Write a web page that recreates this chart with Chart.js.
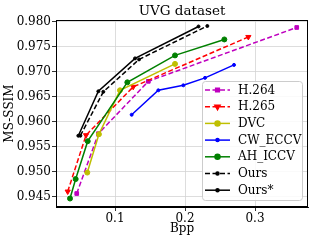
<!DOCTYPE html>
<html>
<head>
<meta charset="utf-8">
<script src="https://cdn.jsdelivr.net/npm/chart.js@4/dist/chart.umd.min.js"></script>
<style>
  html, body { margin: 0; padding: 0; background: #ffffff; }
  #wrap { width: 314px; height: 242px; }
</style>
</head>
<body>
<div id="wrap"><canvas id="chart" width="314" height="242"></canvas></div>
<script>
// values
const h264Bpp = [0.0453, 0.0762, 0.1476, 0.3596];
const h264Ssim = [0.9456, 0.9576, 0.9681, 0.9789];

const h265Bpp = [0.0324, 0.0586, 0.126, 0.2905];
const h265Ssim = [0.9460, 0.9573, 0.9670, 0.9770];

const dvcBpp = [0.0604, 0.0770, 0.1071, 0.1857];
const dvcSsim = [0.9498, 0.9575, 0.9663, 0.9716];

const cwBpp = [0.1238, 0.1619, 0.1976, 0.2286, 0.2700];
const cwSsim = [0.9614, 0.9663, 0.9673, 0.9688, 0.9714];

const ahBpp = [0.0357, 0.0438, 0.0610, 0.1176, 0.1857, 0.2562];
const ahSsim = [0.9446, 0.9485, 0.9561, 0.9679, 0.9733, 0.9765];

const oursBpp = [0.0505, 0.0833, 0.1343, 0.2319];
const oursSsim = [0.9572, 0.9660, 0.9725, 0.9792];

const oursStarBpp = [0.0476, 0.0762, 0.1286, 0.2193];
const oursStarSsim = [0.9572, 0.9661, 0.9727, 0.9791];

const xTicks = [0.1, 0.2, 0.3];
const yTicks = [0.945, 0.950, 0.955, 0.960, 0.965, 0.970, 0.975, 0.980];

const FONT = "'DejaVu Serif', 'Liberation Serif', serif";

function pts(xs, ys) {
  return xs.map((x, i) => ({ x: x, y: ys[i] }));
}

function series(label, xs, ys, color, dashed, style, radius) {
  return {
    label: label,
    data: pts(xs, ys),
    borderColor: color,
    backgroundColor: color,
    borderWidth: 1.5,
    borderDash: dashed ? [5, 2.5] : [],
    pointStyle: style,
    pointRadius: radius,
    pointBorderWidth: 1,
    pointBackgroundColor: color,
    pointBorderColor: color,
    tension: 0,
    fill: false,
  };
}

const datasets = [
  series("H.264", h264Bpp, h264Ssim, "#bf00bf", true, "rect", 2.6),
  series("H.265", h265Bpp, h265Ssim, "#ff0000", true, "triangle", 3),
  series("DVC", dvcBpp, dvcSsim, "#bfbf00", false, "circle", 2.5),
  series("CW_ECCV", cwBpp, cwSsim, "#0000ff", false, "circle", 1.5),
  series("AH_ICCV", ahBpp, ahSsim, "#008000", false, "circle", 2.5),
  series("Ours", oursBpp, oursSsim, "#000000", true, "circle", 1.5),
  series("Ours*", oursStarBpp, oursStarSsim, "#000000", false, "circle", 1.5),
];
// matplotlib draws later series on top
datasets.forEach((d, i) => { d.order = datasets.length - i; });
// red markers are downward triangles
datasets[1].pointRotation = 180;

// frame, title and legend drawn inside the plot like matplotlib
const framePlugin = {
  id: "framePlugin",
  afterDraw: (chart) => {
    const ctx = chart.ctx;
    const a = chart.chartArea;
    ctx.save();
    ctx.strokeStyle = "#000";
    ctx.lineWidth = 1;
    ctx.strokeRect(a.left + 0.5, a.top + 0.5, a.right - a.left - 1, a.bottom - a.top - 1);

    // title
    ctx.fillStyle = "#000";
    ctx.font = "13.5px " + FONT;
    ctx.textAlign = "center";
    ctx.textBaseline = "middle";
    ctx.fillText("UVG dataset", (a.left + a.right) / 2, 11);

    // legend box (lower right)
    const bw = 100, bh = 119;
    const bx = a.right - 5.5 - bw;
    const by = a.bottom - 6.5 - bh;
    ctx.globalAlpha = 0.85;
    ctx.fillStyle = "#fff";
    ctx.beginPath();
    ctx.roundRect(bx, by, bw, bh, 3);
    ctx.fill();
    ctx.globalAlpha = 1;
    ctx.strokeStyle = "#cccccc";
    ctx.stroke();

    ctx.font = "12px " + FONT;
    ctx.textAlign = "left";
    chart.data.datasets.forEach((d, i) => {
      const cy = by + 8.5 + i * 16.7;
      const x0 = bx + 2.5, x1 = bx + 27.5;
      ctx.strokeStyle = d.borderColor;
      ctx.lineWidth = d.borderWidth;
      ctx.setLineDash(d.borderDash);
      ctx.beginPath();
      ctx.moveTo(x0, cy);
      ctx.lineTo(x1, cy);
      ctx.stroke();
      ctx.setLineDash([]);
      ctx.fillStyle = d.pointBackgroundColor;
      Chart.helpers.drawPoint(ctx, {
        pointStyle: d.pointStyle,
        radius: d.pointRadius,
        rotation: d.pointRotation || 0,
        borderWidth: 1,
      }, (x0 + x1) / 2, cy);
      ctx.fillStyle = "#000";
      ctx.fillText(d.label, bx + 35.5, cy + 0.5);
    });
    ctx.restore();
  },
};

new Chart(document.getElementById("chart"), {
  type: "line",
  data: { datasets: datasets },
  plugins: [framePlugin],
  options: {
    responsive: false,
    animation: false,
    layout: { padding: { top: 20, right: 6, left: 0, bottom: 0 } },
    plugins: {
      legend: { display: false },
      tooltip: { enabled: false },
      title: { display: false },
    },
    scales: {
      x: {
        type: "linear",
        min: 0.0157,
        max: 0.3757,
        afterBuildTicks: (scale) => { scale.ticks = xTicks.map((v) => ({ value: v })); },
        afterFit: (scale) => { scale.height = 35; },
        ticks: {
          color: "#000",
          padding: 1,
          font: { family: FONT, size: 12 },
          callback: (v) => v.toFixed(1),
        },
        grid: { color: "#d4d4d4", lineWidth: 0.8, tickColor: "#000", tickLength: 4 },
        border: { display: true, color: "#000", width: 1 },
        title: {
          display: true,
          text: "Bpp",
          color: "#000",
          font: { family: FONT, size: 12 },
          padding: { top: 0, bottom: 6 },
        },
      },
      y: {
        type: "linear",
        min: 0.9429,
        max: 0.9804,
        afterBuildTicks: (scale) => { scale.ticks = yTicks.map((v) => ({ value: v })); },
        afterFit: (scale) => { scale.width = 56; },
        ticks: {
          color: "#000",
          padding: 1,
          font: { family: FONT, size: 12 },
          callback: (v) => v.toFixed(3),
        },
        grid: { color: "#d4d4d4", lineWidth: 0.8, tickColor: "#000", tickLength: 4 },
        border: { display: true, color: "#000", width: 1 },
        title: {
          display: true,
          text: "MS-SSIM",
          color: "#000",
          font: { family: FONT, size: 12 },
          padding: { top: 3, bottom: 0 },
        },
      },
    },
  },
});
</script>
</body>
</html>
